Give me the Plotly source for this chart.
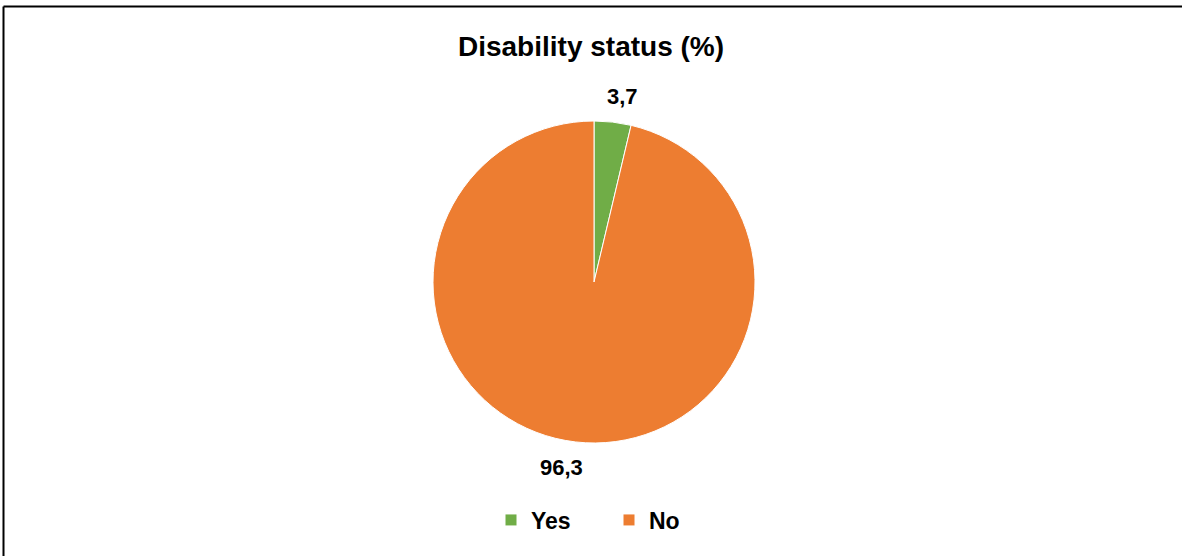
import math
import plotly.graph_objects as go

# Disability status shares (%)
categories = ["Yes", "No"]
shares = [3.7, 96.3]
colors = ["#70AD47", "#ED7D31"]

W, H = 1182, 556

# pie placement (pixels)
cx, cy, r = 594, 282, 161
label_dist = 187          # distance of the value labels from the pie centre
label_xshift = [7, -11]   # small horizontal nudges of the value labels

labels_text = [f"{v:.1f}".replace(".", ",") for v in shares]

fig = go.Figure(
    go.Pie(
        labels=categories,
        values=shares,
        sort=False,
        direction="clockwise",
        rotation=0,
        marker=dict(colors=colors, line=dict(color="white", width=1)),
        textinfo="none",
        hoverinfo="label+value",
        domain=dict(x=[(cx - r) / W, (cx + r) / W], y=[1 - (cy + r) / H, 1 - (cy - r) / H]),
        showlegend=True,
    )
)

# value labels placed on the ray through each slice's middle angle
total = sum(shares)
start = 0.0
annotations = []
for i, v in enumerate(shares):
    mid = (start + v / 2) / total * 2 * math.pi
    start += v
    px = cx + label_dist * math.sin(mid)
    py = cy - label_dist * math.cos(mid)
    annotations.append(
        dict(
            text=labels_text[i],
            x=px / W,
            y=1 - py / H,
            xref="paper",
            yref="paper",
            xanchor="center",
            yanchor="middle",
            xshift=label_xshift[i],
            showarrow=False,
            font=dict(family="Liberation Sans, Arial", size=22, color="black", weight="bold"),
        )
    )

# outer frame: left and top edges (the others fall outside the view)
frame_x, frame_y = 3.5, 6.5
shapes = [
    dict(type="line", xref="paper", yref="paper",
         x0=frame_x / W, x1=frame_x / W, y0=-0.1, y1=1 - frame_y / H,
         line=dict(color="black", width=2)),
    dict(type="line", xref="paper", yref="paper",
         x0=frame_x / W, x1=1.1, y0=1 - frame_y / H, y1=1 - frame_y / H,
         line=dict(color="black", width=2)),
]

fig.update_layout(
    width=W,
    height=H,
    margin=dict(l=0, r=0, t=0, b=0),
    paper_bgcolor="white",
    plot_bgcolor="white",
    font=dict(family="Liberation Sans, Arial", color="black"),
    title=dict(
        text="Disability status (%)",
        x=0.5,
        xanchor="center",
        y=1 - 46 / H,
        yanchor="middle",
        font=dict(size=28, color="black", weight="bold", family="Liberation Sans, Arial"),
    ),
    legend=dict(
        orientation="h",
        x=0.5 + 18 / W,
        xanchor="center",
        y=1 - 520 / H,
        yanchor="middle",
        font=dict(size=23, color="black", weight="bold", family="Liberation Sans, Arial"),
        entrywidth=73,
        itemwidth=30,
        traceorder="normal",
    ),
    annotations=annotations,
    shapes=shapes,
)

fig.write_html("out.html")
